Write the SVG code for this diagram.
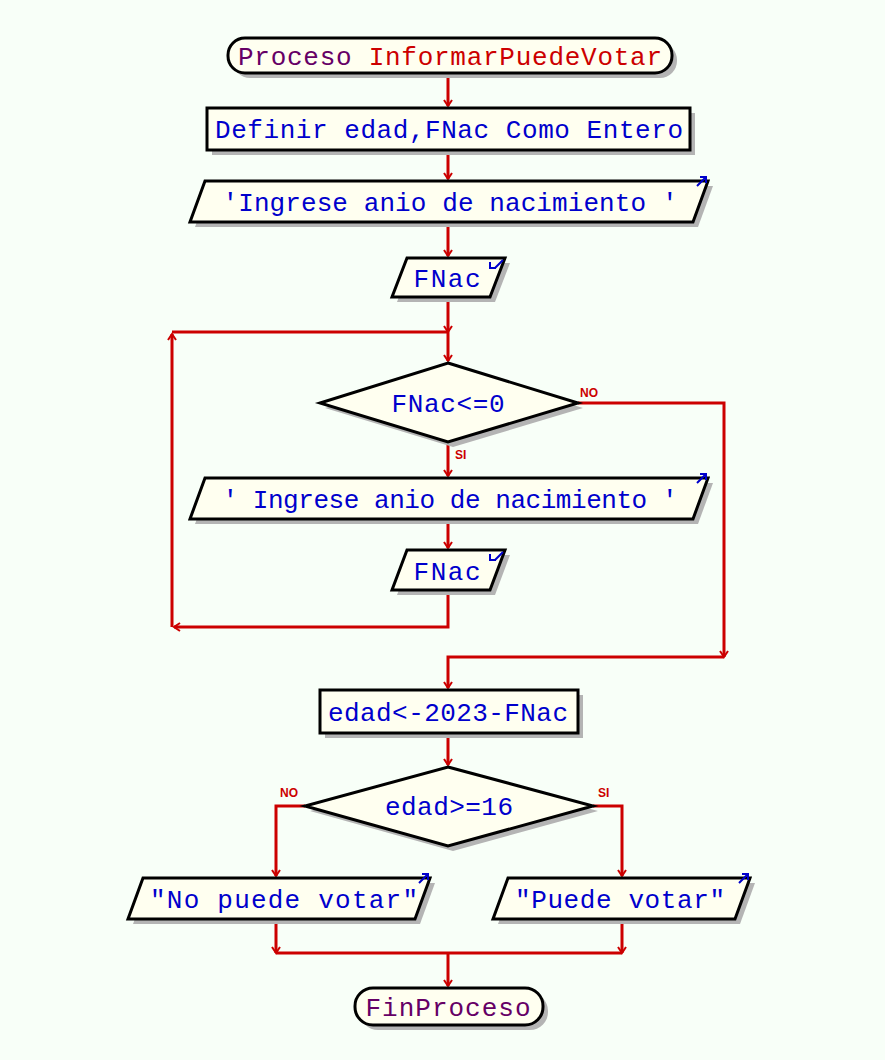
<svg xmlns="http://www.w3.org/2000/svg" width="885" height="1060" viewBox="0 0 885 1060">
<defs>
<marker id="ah" viewBox="0 0 10 10" refX="8" refY="5" markerWidth="10" markerHeight="10" markerUnits="userSpaceOnUse" orient="auto">
<path d="M2,1 L8,5 L2,9" fill="none" stroke="#cc0000" stroke-width="2"/>
</marker>
<style>
.sh{fill:#b4b4b4;stroke:none}
.nd{fill:#fffff0;stroke:#000;stroke-width:3}
.t{font-family:"Liberation Mono",monospace;font-size:26px;fill:#0000cc;text-anchor:middle}
.p{fill:#660066}
.r{fill:#cc0000}
.c{fill:none;stroke:#cc0000;stroke-width:3}
.lb{font-family:"Liberation Sans",Arial,sans-serif;font-size:12px;font-weight:bold;fill:#cc0000}
.ic{fill:none;stroke:#0000cc;stroke-width:2}
</style>
</defs>
<rect width="885" height="1060" fill="#f8fff8"/>

<g id="connectors">
<path class="c" d="M448,73 V106" marker-end="url(#ah)"/>
<path class="c" d="M448,150 V179" marker-end="url(#ah)"/>
<path class="c" d="M448,222 V256" marker-end="url(#ah)"/>
<path class="c" d="M448,297 V332" marker-end="url(#ah)"/>
<path class="c" d="M448,332 V361" marker-end="url(#ah)"/>
<path class="c" d="M448,442 V476" marker-end="url(#ah)"/>
<path class="c" d="M448,519 V548" marker-end="url(#ah)"/>
<path class="c" d="M448,590 V627 H174" marker-end="url(#ah)"/>
<path class="c" d="M172,627 V334" marker-end="url(#ah)"/>
<path class="c" d="M172,332 H448"/>
<path class="c" d="M578,403 H724 V657" marker-end="url(#ah)"/>
<path class="c" d="M724,657 H448 V688" marker-end="url(#ah)"/>
<path class="c" d="M448,733 V765" marker-end="url(#ah)"/>
<path class="c" d="M305,806 H276 V876" marker-end="url(#ah)"/>
<path class="c" d="M593,806 H622 V876" marker-end="url(#ah)"/>
<path class="c" d="M276,919 V953" marker-end="url(#ah)"/>
<path class="c" d="M622,919 V953" marker-end="url(#ah)"/>
<path class="c" d="M276,953 H622"/>
<path class="c" d="M448,953 V986" marker-end="url(#ah)"/>
<text class="lb" x="580" y="397">NO</text>
<text class="lb" x="455" y="459">SI</text>
<text class="lb" x="280" y="797">NO</text>
<text class="lb" x="598" y="797">SI</text>
</g>

<g id="start">
<rect class="sh" x="233" y="43" width="444" height="35" rx="17"/>
<rect class="nd" x="228" y="38" width="444" height="35" rx="17"/>
<text class="t" x="450" y="65" textLength="424" lengthAdjust="spacing"><tspan class="p">Proceso </tspan><tspan class="r">InformarPuedeVotar</tspan></text>
</g>

<g id="definir">
<rect class="sh" x="212" y="113" width="483" height="42"/>
<rect class="nd" x="207" y="108" width="483" height="42"/>
<text class="t" x="449" y="138" textLength="468" lengthAdjust="spacing">Definir edad,FNac Como Entero</text>
</g>

<g id="out1">
<polygon class="sh" points="210,186 713,186 698,227 195,227"/>
<polygon class="nd" points="205,181 708,181 693,222 190,222"/>
<text class="t" x="450" y="211" textLength="455" lengthAdjust="spacing">'Ingrese anio de nacimiento '</text>
<path class="ic" d="M697,186 L706,177 M700,177 H706 V183"/>
</g>

<g id="in1">
<polygon class="sh" points="412,263 510,263 495,302 397,302"/>
<polygon class="nd" points="407,258 505,258 490,297 392,297"/>
<text class="t" x="447" y="287" textLength="67" lengthAdjust="spacing">FNac</text>
<path class="ic" d="M495,268 L503,260 M490,262 V268 H496"/>
</g>

<g id="cond1">
<polygon class="sh" points="453,368 583,408 453,447 325,408"/>
<polygon class="nd" points="448,363 578,403 448,442 320,403"/>
<text class="t" x="448" y="412" textLength="113" lengthAdjust="spacing">FNac&lt;=0</text>
</g>

<g id="out2">
<polygon class="sh" points="210,483 713,483 698,524 195,524"/>
<polygon class="nd" points="205,478 708,478 693,519 190,519"/>
<text class="t" x="450" y="508" textLength="455" lengthAdjust="spacing">' Ingrese anio de nacimiento '</text>
<path class="ic" d="M697,483 L706,474 M700,474 H706 V480"/>
</g>

<g id="in2">
<polygon class="sh" points="412,555 510,555 495,595 397,595"/>
<polygon class="nd" points="407,550 505,550 490,590 392,590"/>
<text class="t" x="447" y="580" textLength="67" lengthAdjust="spacing">FNac</text>
<path class="ic" d="M495,560 L503,552 M490,554 V560 H496"/>
</g>

<g id="asig">
<rect class="sh" x="325" y="695" width="258" height="43"/>
<rect class="nd" x="320" y="690" width="258" height="43"/>
<text class="t" x="448" y="721" textLength="240" lengthAdjust="spacing">edad&lt;-2023-FNac</text>
</g>

<g id="cond2">
<polygon class="sh" points="453,772 598,811 453,851 310,811"/>
<polygon class="nd" points="448,767 593,806 448,846 305,806"/>
<text class="t" x="449" y="815" textLength="128" lengthAdjust="spacing">edad&gt;=16</text>
</g>

<g id="out3">
<polygon class="sh" points="148,883 435,883 420,924 133,924"/>
<polygon class="nd" points="143,878 430,878 415,919 128,919"/>
<text class="t" x="284" y="908" textLength="268" lengthAdjust="spacing">"No puede votar"</text>
<path class="ic" d="M419,883 L428,874 M422,874 H428 V880"/>
</g>

<g id="out4">
<polygon class="sh" points="513,883 755,883 740,924 498,924"/>
<polygon class="nd" points="508,878 750,878 735,919 493,919"/>
<text class="t" x="620" y="908" textLength="210" lengthAdjust="spacing">"Puede votar"</text>
<path class="ic" d="M739,883 L748,874 M742,874 H748 V880"/>
</g>

<g id="fin">
<rect class="sh" x="360" y="993" width="188" height="37" rx="18"/>
<rect class="nd" x="355" y="988" width="188" height="37" rx="18"/>
<text class="t p" x="448" y="1016" textLength="165" lengthAdjust="spacing">FinProceso</text>
</g>
</svg>
